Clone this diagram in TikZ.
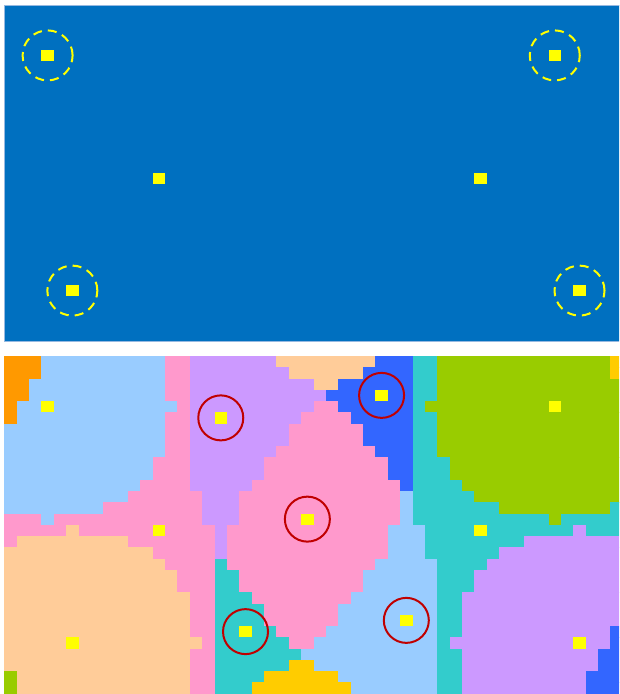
\documentclass[tikz,border=0pt]{standalone}
\definecolor{topblue}{HTML}{0070C0}
\definecolor{vOr}{HTML}{FF9900}
\definecolor{vLB}{HTML}{99CCFF}
\definecolor{vPk}{HTML}{FF99CC}
\definecolor{vPu}{HTML}{CC99FF}
\definecolor{vPe}{HTML}{FFCC99}
\definecolor{vBl}{HTML}{3366FF}
\definecolor{vCy}{HTML}{33CCCC}
\definecolor{vGr}{HTML}{99CC00}
\definecolor{vGo}{HTML}{FFCC00}
\definecolor{seedY}{HTML}{FFFF00}
\definecolor{ringR}{HTML}{C00000}
\newcommand\vrow[2]{\foreach \cc/\aa/\bb in {#2}{\fill[\cc] ({4.3+12.37*\aa},{356+11.25*#1}) rectangle ({4.3+12.37*(\bb+1)+0.3},{356+11.25*(#1+1)+0.3});}}
\tikzset{
  tseed/.style={rectangle, fill=seedY, inner sep=0pt, minimum width=12.37pt, minimum height=11.2pt},
  bseed/.style={rectangle, fill=seedY, inner sep=0pt, minimum width=12.37pt, minimum height=11.25pt},
  dring/.style={circle, draw=seedY, line width=2pt, dash pattern=on 9pt off 6pt, minimum size=50pt, inner sep=0pt},
  rring/.style={circle, draw=ringR, line width=2pt, minimum size=45pt, inner sep=0pt}
}
\begin{document}
\begin{tikzpicture}[x=1pt,y=-1pt]
\useasboundingbox (0,0) rectangle (619,694);
\clip (0,0) rectangle (619,694);
\fill[white] (0,0) rectangle (619,694);
% ---------- top panel ----------
\fill[topblue] (4.3,5) rectangle (625,341);
\draw[color={rgb,255:red,150;green,185;blue,225}, line width=0.8pt] (625,5) -- (4.3,5) -- (4.3,341) -- (625,341);
\foreach \n/\c/\r in {t1/3/4, t2/44/4, t3/12/15, t4/38/15, t5/5/25, t6/46/25}
  \node[tseed] (\n) at ({4.3+12.37*(\c+0.5)},{5+11.2*(\r+0.5)}) {};
\foreach \n in {t1,t2,t5,t6}
  \node[dring] (d\n) at (\n) {};
% ---------- bottom panel ----------
\vrow{0}{vOr/0/2, vLB/3/12, vPk/13/14, vPu/15/21, vPe/22/29, vBl/30/32, vCy/33/34, vGr/35/48, vGo/49/49}
\vrow{1}{vOr/0/2, vLB/3/12, vPk/13/14, vPu/15/22, vPe/23/28, vBl/29/32, vCy/33/34, vGr/35/48, vGo/49/49}
\vrow{2}{vOr/0/1, vLB/2/12, vPk/13/14, vPu/15/24, vPe/25/26, vBl/27/32, vCy/33/34, vGr/35/49}
\vrow{3}{vOr/0/1, vLB/2/12, vPk/13/14, vPu/15/25, vBl/26/32, vCy/33/34, vGr/35/49}
\vrow{4}{vOr/0/0, vLB/1/13, vPk/14/14, vPu/15/24, vPk/25/26, vBl/27/32, vCy/33/33, vGr/34/49}
\vrow{5}{vOr/0/0, vLB/1/12, vPk/13/14, vPu/15/23, vPk/24/27, vBl/28/32, vCy/33/34, vGr/35/49}
\vrow{6}{vLB/0/12, vPk/13/14, vPu/15/22, vPk/23/28, vBl/29/32, vCy/33/34, vGr/35/49}
\vrow{7}{vLB/0/12, vPk/13/14, vPu/15/22, vPk/23/28, vBl/29/32, vCy/33/34, vGr/35/49}
\vrow{8}{vLB/0/12, vPk/13/14, vPu/15/21, vPk/22/29, vBl/30/32, vCy/33/34, vGr/35/49}
\vrow{9}{vLB/0/11, vPk/12/14, vPu/15/20, vPk/21/30, vBl/31/32, vCy/33/35, vGr/36/49}
\vrow{10}{vLB/0/11, vPk/12/14, vPu/15/20, vPk/21/30, vBl/31/32, vCy/33/35, vGr/36/49}
\vrow{11}{vLB/0/10, vPk/11/14, vPu/15/19, vPk/20/31, vBl/32/32, vCy/33/36, vGr/37/49}
\vrow{12}{vLB/0/9, vPk/10/15, vPu/16/18, vPk/19/31, vLB/32/32, vCy/33/37, vGr/38/49}
\vrow{13}{vLB/0/7, vPk/8/15, vPu/16/18, vPk/19/31, vLB/32/32, vCy/33/39, vGr/40/48, vCy/49/49}
\vrow{14}{vPk/0/2, vLB/3/3, vPk/4/15, vPu/16/18, vPk/19/31, vLB/32/32, vCy/33/43, vGr/44/44, vCy/45/49}
\vrow{15}{vPk/0/4, vPe/5/5, vPk/6/16, vPu/17/17, vPk/18/30, vLB/31/33, vCy/34/45, vPu/46/46, vCy/47/49}
\vrow{16}{vPk/0/0, vPe/1/9, vPk/10/16, vPu/17/17, vPk/18/30, vLB/31/33, vCy/34/41, vPu/42/49}
\vrow{17}{vPe/0/11, vPk/12/16, vPu/17/17, vPk/18/30, vLB/31/33, vCy/34/39, vPu/40/49}
\vrow{18}{vPe/0/12, vPk/13/16, vCy/17/17, vPk/18/29, vLB/30/34, vCy/35/38, vPu/39/49}
\vrow{19}{vPe/0/13, vPk/14/16, vCy/17/18, vPk/19/28, vLB/29/34, vCy/35/37, vPu/38/49}
\vrow{20}{vPe/0/13, vPk/14/16, vCy/17/18, vPk/19/28, vLB/29/34, vCy/35/37, vPu/38/49}
\vrow{21}{vPe/0/14, vPk/15/16, vCy/17/19, vPk/20/27, vLB/28/34, vCy/35/36, vPu/37/49}
\vrow{22}{vPe/0/14, vPk/15/16, vCy/17/20, vPk/21/26, vLB/27/34, vCy/35/36, vPu/37/49}
\vrow{23}{vPe/0/14, vPk/15/16, vCy/17/20, vPk/21/26, vLB/27/34, vCy/35/36, vPu/37/49}
\vrow{24}{vPe/0/14, vPk/15/16, vCy/17/21, vPk/22/25, vLB/26/34, vCy/35/36, vPu/37/48, vBl/49/49}
\vrow{25}{vPe/0/15, vPk/16/16, vCy/17/22, vPk/23/24, vLB/25/34, vCy/35/35, vPu/36/48, vBl/49/49}
\vrow{26}{vPe/0/14, vPk/15/16, vCy/17/23, vLB/24/34, vCy/35/36, vPu/37/47, vBl/48/49}
\vrow{27}{vPe/0/14, vPk/15/16, vCy/17/22, vGo/23/24, vLB/25/34, vCy/35/36, vPu/37/47, vBl/48/49}
\vrow{28}{vGr/0/0, vPe/1/14, vPk/15/16, vCy/17/20, vGo/21/26, vLB/27/34, vCy/35/36, vPu/37/46, vBl/47/49}
\vrow{29}{vGr/0/0, vPe/1/14, vPk/15/16, vCy/17/19, vGo/20/27, vLB/28/34, vCy/35/36, vPu/37/46, vBl/47/49}
\foreach \n/\c/\r in {b1/3/4, b2/17/5, b3/30/3, b4/44/4, b5/12/15, b6/24/14, b7/38/15, b8/5/25, b9/19/24, b10/32/23, b11/46/25}
  \node[bseed] (\n) at ({4.3+12.37*(\c+0.5)},{356+11.25*(\r+0.5)}) {};
\foreach \n in {b2,b3,b6,b9,b10}
  \node[rring] (r\n) at (\n) {};
\end{tikzpicture}
\end{document}
